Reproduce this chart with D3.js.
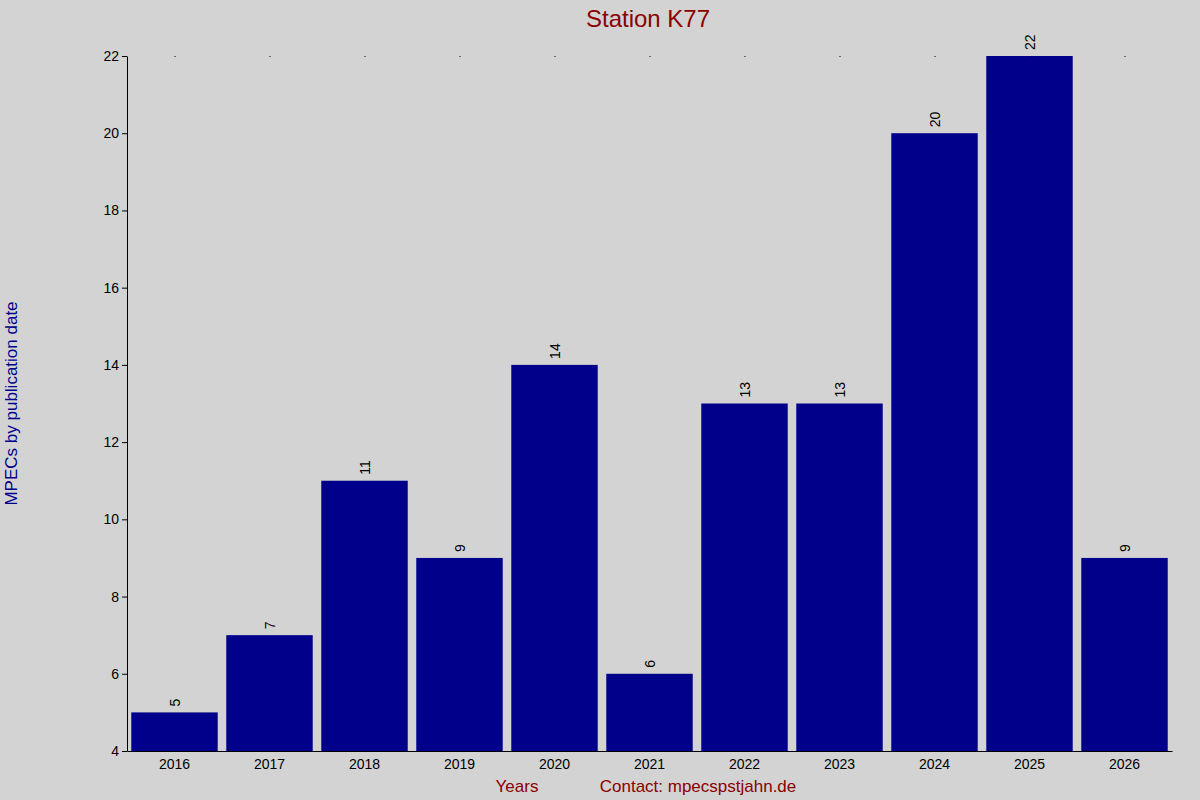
<!DOCTYPE html>
<html>
<head>
<meta charset="utf-8">
<script src="https://cdn.jsdelivr.net/npm/d3@7"></script>
<style>
  body { margin: 0; background: #d3d3d3; }
  svg { display: block; font-family: "Liberation Sans", Arial, sans-serif; }
</style>
</head>
<body>
<div id="chart"></div>
<script>
var years = ["2016", "2017", "2018", "2019", "2020", "2021", "2022", "2023", "2024", "2025", "2026"];
var counts = [5, 7, 11, 9, 14, 6, 13, 13, 20, 22, 9];
var yTicks = [4, 6, 8, 10, 12, 14, 16, 18, 20, 22];

var data = years.map((y, i) => ({ year: y, value: counts[i] }));

var margin = { top: 56, right: 28, bottom: 49, left: 127 },
  width = 1200 - margin.left - margin.right,
  height = 800 - margin.top - margin.bottom;

var root = d3.select("#chart").append("svg")
  .attr("width", 1200).attr("height", 800)
  .style("background", "#d3d3d3");

var svg = root.append("g")
  .attr("transform", "translate(" + margin.left + "," + margin.top + ")");

var x = d3.scaleBand().domain(years).range([0, width]).paddingInner(0.09).paddingOuter(0.045);
var y = d3.scaleLinear().domain([4, 22]).range([height, 0]);

svg.selectAll(".bar")
  .data(data)
  .enter()
  .append("rect")
  .attr("class", "bar")
  .attr("x", d => x(d.year))
  .attr("width", x.bandwidth())
  .attr("y", d => y(d.value))
  .attr("height", d => height - y(d.value))
  .attr("fill", "#00008b");

svg.selectAll(".val")
  .data(data)
  .enter()
  .append("text")
  .attr("transform", d => "translate(" + (x(d.year) + x.bandwidth() / 2 + 5) + "," + (y(d.value) - 6) + ") rotate(-90)")
  .style("font-size", "14px")
  .text(d => d.value);

// top dots at category centers
svg.selectAll(".dot")
  .data(years)
  .enter()
  .append("rect")
  .attr("x", d => x(d) + x.bandwidth() / 2)
  .attr("y", 0)
  .attr("width", 1).attr("height", 1)
  .attr("fill", "#000");

var yAxis = svg.append("g")
  .call(d3.axisLeft(y).tickValues(yTicks).tickSize(5).tickSizeOuter(0));
yAxis.selectAll("text").style("font-size", "14px").attr("fill", "#000");
yAxis.selectAll("line, path").attr("stroke", "#000");

var xAxis = svg.append("g")
  .attr("transform", "translate(0," + height + ")")
  .call(d3.axisBottom(x).tickSize(0).tickSizeOuter(0).tickPadding(8));
xAxis.selectAll("text").style("font-size", "14px").attr("fill", "#000");
xAxis.select("path").attr("stroke", "#000");

root.append("text")
  .attr("x", 648).attr("y", 27)
  .attr("text-anchor", "middle")
  .style("font-size", "24px")
  .attr("fill", "#8b0000")
  .text("Station K77");

root.append("text")
  .attr("transform", "translate(17," + (margin.top + height / 2) + ") rotate(-90)")
  .attr("text-anchor", "middle")
  .style("font-size", "17px")
  .attr("fill", "#00008b")
  .text("MPECs by publication date");

root.append("text")
  .attr("x", 517).attr("y", 792)
  .attr("text-anchor", "middle")
  .style("font-size", "17px")
  .attr("fill", "#8b0000")
  .text("Years");

root.append("text")
  .attr("x", 698).attr("y", 792)
  .attr("text-anchor", "middle")
  .style("font-size", "17px")
  .attr("fill", "#8b0000")
  .text("Contact: mpecspstjahn.de");
</script>
</body>
</html>
